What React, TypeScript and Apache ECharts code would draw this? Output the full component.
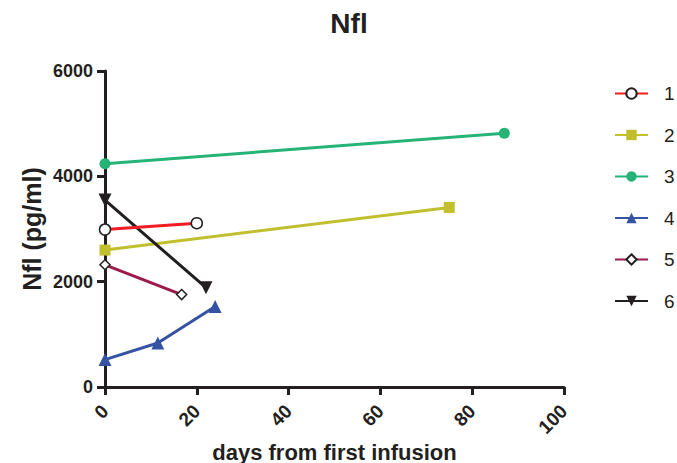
import React, { useEffect, useRef } from "react";
import * as echarts from "echarts";

const seriesNames = ["1", "2", "3", "4", "5", "6"];
const s1Days = [0, 20];
const s1Values = [2990, 3110];
const s2Days = [0, 75];
const s2Values = [2600, 3410];
const s3Days = [0, 87];
const s3Values = [4240, 4820];
const s4Days = [0, 11.5, 24];
const s4Values = [520, 835, 1530];
const s5Days = [0, 16.7];
const s5Values = [2320, 1755];
const s6Days = [0, 22];
const s6Values = [3550, 1885];
const xTicks = [0, 20, 40, 60, 80, 100];
const yTicks = [0, 2000, 4000, 6000];

const pair = (xs: number[], ys: number[]) => xs.map((x, i) => [x, ys[i]]);

export default function App() {
  const ref = useRef<HTMLDivElement>(null);
  useEffect(() => {
    const chart = echarts.init(ref.current!, null, { renderer: "svg" });
    const font = "'Liberation Sans', Arial, Helvetica, sans-serif";
    const ink = "#231f20";
    const mk = (
      name: string,
      data: number[][],
      color: string,
      symbol: string,
      size: number,
      extra: any = {}
    ) => ({
      name,
      type: "line",
      data,
      symbol,
      symbolSize: size,
      lineStyle: { color, width: 3 },
      itemStyle: { color, ...extra.itemStyle },
      symbolRotate: extra.rotate || 0,
      z: extra.z || 2,
    });
    chart.setOption({
      animation: false,
      textStyle: { fontFamily: font },
      title: {
        text: "Nfl",
        left: 344,
        textAlign: "center",
        top: 4,
        textStyle: { fontSize: 28, fontWeight: "bold", color: ink, fontFamily: font },
      },
      grid: {
        left: 105,
        right: 113,
        top: 71,
        bottom: 76,
        containLabel: false,
        outerBoundsMode: "none",
      },
      legend: {
        orient: "vertical",
        left: 614,
        top: 84,
        padding: 0,
        itemWidth: 33,
        itemHeight: 13,
        itemGap: 22.5,
        data: seriesNames,
        textStyle: {
          fontSize: 19,
          color: ink,
          fontFamily: font,
          padding: [0, 0, 0, 11],
          lineHeight: 13,
        },
      },
      xAxis: {
        type: "value",
        min: 0,
        max: 100,
        interval: 20,
        name: "days from first infusion",
        nameLocation: "middle",
        nameGap: 54,
        nameMoveOverlap: false,
        nameTextStyle: { fontSize: 22, fontWeight: "bold", color: ink, fontFamily: font },
        axisLine: { lineStyle: { color: ink, width: 3 } },
        axisTick: { show: true, length: 8, lineStyle: { color: ink, width: 3 } },
        axisLabel: {
          rotate: 45,
          fontSize: 19,
          fontWeight: "bold",
          color: ink,
          margin: 21,
          fontFamily: font,
          customValues: xTicks,
          formatter: (v: number) => String(v),
        },
        splitLine: { show: false },
      },
      yAxis: {
        type: "value",
        min: 0,
        max: 6000,
        interval: 2000,
        name: "Nfl (pg/ml)",
        nameLocation: "middle",
        nameGap: 61,
        nameMoveOverlap: false,
        nameRotate: 90,
        nameTextStyle: { fontSize: 25, fontWeight: "bold", color: ink, fontFamily: font },
        axisLine: { show: true, lineStyle: { color: ink, width: 3 } },
        axisTick: { show: true, length: 8, lineStyle: { color: ink, width: 3 } },
        axisLabel: {
          fontSize: 18,
          fontWeight: "bold",
          color: ink,
          margin: 12,
          fontFamily: font,
          customValues: yTicks,
          formatter: (v: number) => String(v),
        },
        splitLine: { show: false },
      },
      series: [
        mk(seriesNames[0], pair(s1Days, s1Values), "#f21d24", "circle", 11, {
          itemStyle: { color: "#ffffff", borderColor: ink, borderWidth: 1.5 },
          z: 4,
        }),
        mk(seriesNames[1], pair(s2Days, s2Values), "#c1bf2e", "rect", 11),
        mk(seriesNames[2], pair(s3Days, s3Values), "#26b476", "circle", 11),
        mk(seriesNames[3], pair(s4Days, s4Values), "#3652a3", "triangle", 13),
        mk(seriesNames[4], pair(s5Days, s5Values), "#9c1a4c", "diamond", 10, {
          itemStyle: { color: "#ffffff", borderColor: ink, borderWidth: 1.5 },
          z: 4,
        }),
        mk(seriesNames[5], pair(s6Days, s6Values), ink, "triangle", 13, { rotate: 180, z: 3 }),
      ],
    });
    return () => chart.dispose();
  }, []);
  return <div ref={ref} style={{ width: 677, height: 463, position: "absolute", left: 0, top: 0 }} />;
}
